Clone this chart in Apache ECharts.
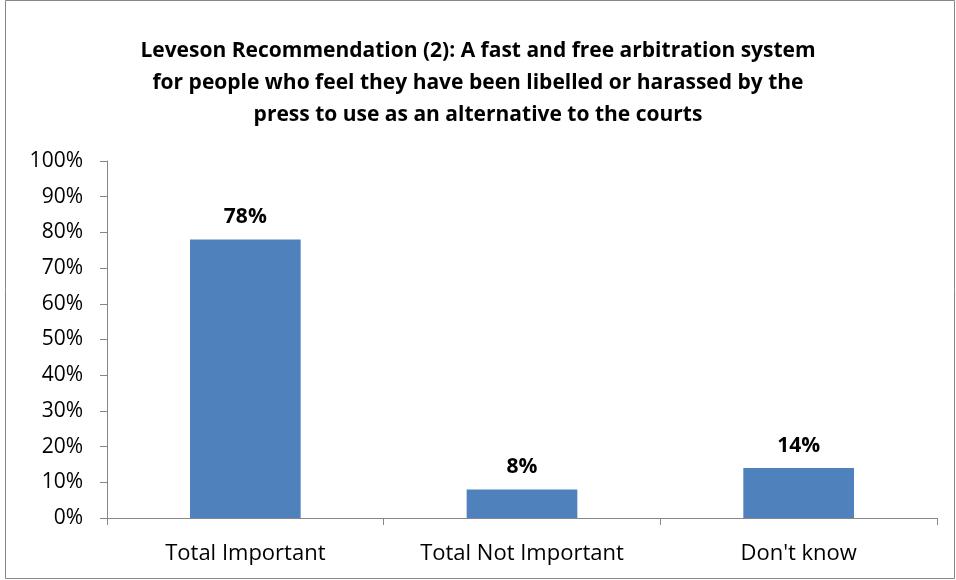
<!DOCTYPE html>
<html>
<head>
<meta charset="utf-8">
<script src="https://cdn.jsdelivr.net/npm/echarts@6/dist/echarts.min.js"></script>
<style>
  html, body { margin: 0; padding: 0; background: #fff; }
  #main { width: 956px; height: 580px; }
</style>
</head>
<body>
<div id="main"></div>
<script>
var chart = echarts.init(document.getElementById('main'));

var titleText = 'Leveson Recommendation (2): A fast and free arbitration system\nfor people who feel they have been libelled or harassed by the\npress to use as an alternative to the courts';
var categories = ['Total Important', 'Total Not Important', "Don't know"];
var values = [78, 8, 14];
var fontFamily = '"Open Sans", "Noto Sans", sans-serif';

var option = {
    animation: false,
    title: {
        text: titleText,
        left: 'center',
        top: 30,
        textStyle: {
            fontFamily: fontFamily,
            fontSize: 21,
            fontWeight: 'bold',
            color: '#000',
            lineHeight: 32
        }
    },
    grid: {
        left: 107,
        right: 19,
        top: 161,
        bottom: 62
    },
    xAxis: {
        type: 'category',
        data: categories,
        axisLine: { lineStyle: { color: '#868686', width: 1 } },
        axisTick: { show: true, length: 7, lineStyle: { color: '#868686' } },
        axisLabel: {
            fontFamily: fontFamily,
            fontSize: 22,
            color: '#000',
            margin: 25
        }
    },
    yAxis: {
        type: 'value',
        min: 0,
        max: 100,
        interval: 10,
        axisLine: { show: true, lineStyle: { color: '#868686', width: 1 } },
        axisTick: { show: true, length: 7, lineStyle: { color: '#868686' } },
        splitLine: { show: false },
        axisLabel: {
            fontFamily: fontFamily,
            fontSize: 21,
            color: '#000',
            margin: 24,
            formatter: '{value}%'
        }
    },
    series: [{
        type: 'bar',
        data: values,
        barWidth: '40%',
        itemStyle: { color: '#4F81BD' },
        label: {
            show: true,
            position: 'top',
            distance: 12,
            formatter: '{c}%',
            fontFamily: fontFamily,
            fontSize: 21,
            fontWeight: 'bold',
            color: '#000'
        }
    }],
    graphic: [{
        type: 'rect',
        shape: { x: 5.5, y: 0.5, width: 949, height: 578 },
        style: { fill: 'none', stroke: '#868686', lineWidth: 1 },
        silent: true
    }]
};

chart.setOption(option);
window.onresize = chart.resize;
</script>
</body>
</html>
